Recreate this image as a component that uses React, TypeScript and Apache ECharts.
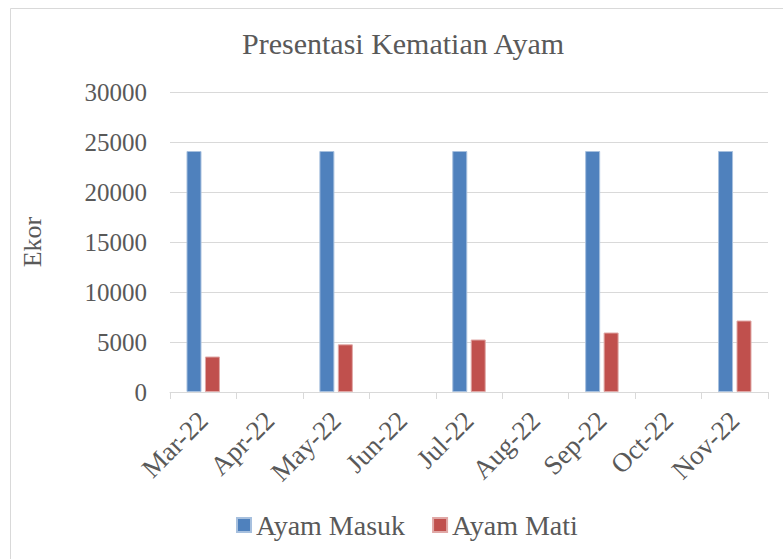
import React, { useEffect, useRef } from "react";
import * as echarts from "echarts";

const categories = ["Mar-22", "Apr-22", "May-22", "Jun-22", "Jul-22", "Aug-22", "Sep-22", "Oct-22", "Nov-22"];
const ayamMasuk = [24100, null, 24100, null, 24100, null, 24100, null, 24100];
const ayamMati = [3550, null, 4770, null, 5250, null, 5950, null, 7150];
const yTicks = { min: 0, max: 30000, interval: 5000 };

const FONT = "'Liberation Serif', 'Times New Roman', serif";
const GRAY = "#595959";

export default function App() {
  const ref = useRef<HTMLDivElement>(null);
  useEffect(() => {
    if (!ref.current) return;
    const chart = echarts.init(ref.current, undefined, { renderer: "svg" });
    chart.setOption({
      animation: false,
      backgroundColor: "#ffffff",
      textStyle: { fontFamily: FONT, color: GRAY },
      graphic: [
        {
          type: "rect",
          shape: { x: 10.5, y: 8.5, width: 800, height: 600 },
          style: { fill: "none", stroke: "#d9d9d9", lineWidth: 1 },
          silent: true,
        },
      ],
      title: {
        text: "Presentasi Kematian Ayam",
        left: 237,
        top: 23,
        textStyle: { fontFamily: FONT, fontSize: 30, fontWeight: "normal", color: GRAY },
      },
      legend: {
        left: 236,
        top: 511,
        padding: 0,
        itemWidth: 14,
        itemHeight: 14,
        itemGap: 27,
        icon: "rect",
        textStyle: { fontFamily: FONT, fontSize: 28, color: GRAY },
        data: ["Ayam Masuk", "Ayam Mati"],
      },
      grid: { left: 170, right: 15, top: 92, bottom: 167, containLabel: false },
      xAxis: {
        type: "category",
        data: categories,
        boundaryGap: true,
        axisLine: { lineStyle: { color: "#d9d9d9", width: 1 } },
        axisTick: { show: true, length: 7, lineStyle: { color: "#d9d9d9" } },
        axisLabel: { rotate: 45, fontFamily: FONT, fontSize: 27, color: GRAY, margin: 24, interval: 0 },
      },
      yAxis: {
        type: "value",
        min: yTicks.min,
        max: yTicks.max,
        interval: yTicks.interval,
        name: "Ekor",
        nameLocation: "middle",
        nameGap: 125,
        nameTextStyle: { fontFamily: FONT, fontSize: 26, color: GRAY },
        axisLine: { show: false },
        axisTick: { show: false },
        splitLine: { lineStyle: { color: "#d9d9d9", width: 1 } },
        axisLabel: {
          fontFamily: FONT,
          fontSize: 25,
          color: GRAY,
          margin: 23,
          formatter: (v: number) => String(v),
        },
      },
      series: [
        {
          name: "Ayam Masuk",
          type: "bar",
          data: ayamMasuk,
          barWidth: 15,
          barGap: "23%",
          itemStyle: { color: "#4F81BD", borderColor: "#a7c0de", borderWidth: 1 },
        },
        {
          name: "Ayam Mati",
          type: "bar",
          data: ayamMati,
          barWidth: 15,
          itemStyle: { color: "#C0504D", borderColor: "#e0a8a6", borderWidth: 1 },
        },
      ],
    });
    return () => chart.dispose();
  }, []);
  return (
    <div
      ref={ref}
      style={{ position: "fixed", left: 0, top: 0, width: 783, height: 559 }}
    />
  );
}
